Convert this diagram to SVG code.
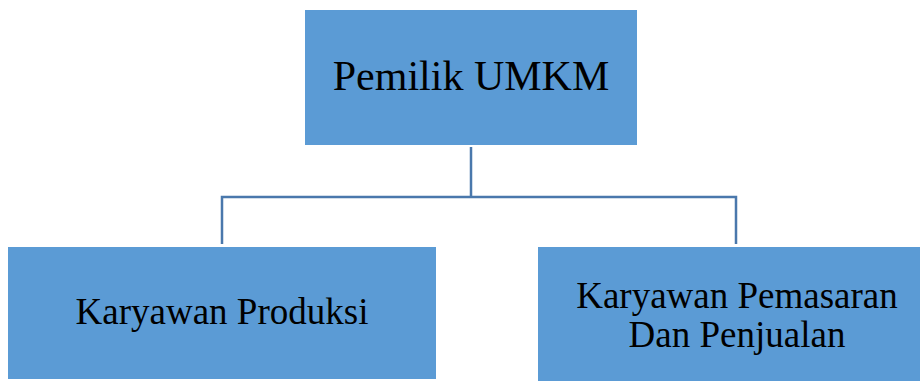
<svg xmlns="http://www.w3.org/2000/svg" width="920" height="381" viewBox="0 0 920 381">
<style>
.box{fill:#5b9bd5;}
.t{font-family:"Liberation Serif","Times New Roman",serif;fill:#000;text-anchor:middle;}
.c{fill:none;stroke:#4a78ac;stroke-width:2.5;}
</style>
<rect width="920" height="381" fill="#fff"/>
<g id="connectors">
<path class="c" d="M471 147 V197 M222 244 V197 H736 V244"/>
</g>
<g id="pemilik">
<rect class="box" x="305" y="10" width="332" height="135"/>
<text class="t" x="471" y="90" font-size="42">Pemilik UMKM</text>
</g>
<g id="produksi">
<rect class="box" x="8" y="247" width="428" height="132"/>
<text class="t" x="222" y="324" font-size="37">Karyawan Produksi</text>
</g>
<g id="pemasaran">
<rect class="box" x="538" y="247" width="382" height="134"/>
<text class="t" x="737" y="308" font-size="37">Karyawan Pemasaran</text>
<text class="t" x="737" y="347" font-size="37">Dan Penjualan</text>
</g>
</svg>
